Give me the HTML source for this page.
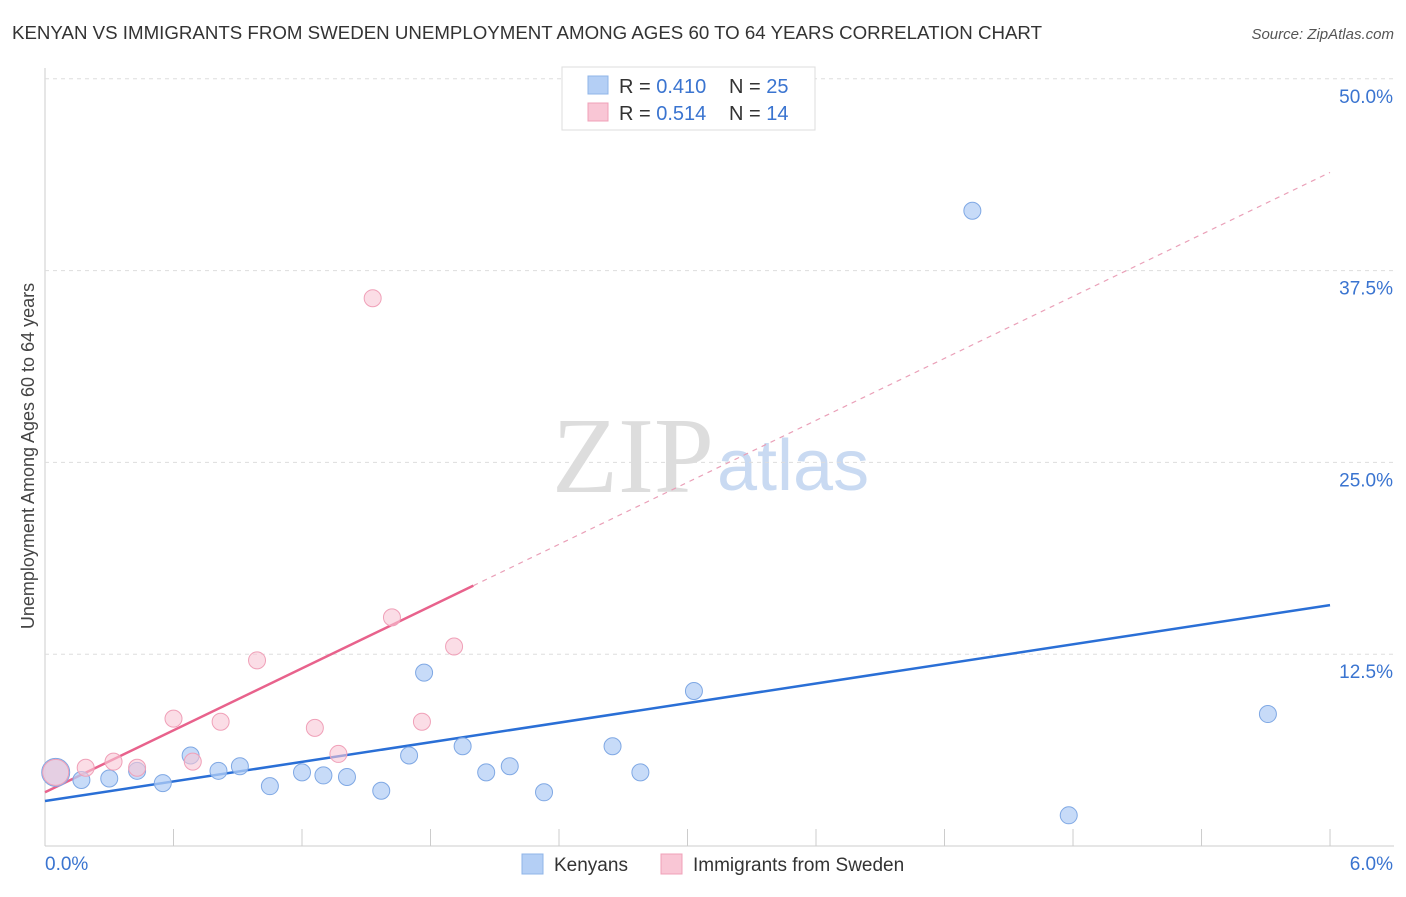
<!DOCTYPE html>
<html><head><meta charset="utf-8"><style>
body{margin:0;background:#fff;font-family:"Liberation Sans",sans-serif;}
</style></head><body>
<svg width="1406" height="892" xmlns="http://www.w3.org/2000/svg" id="chart">
<text x="12" y="39" font-size="18" fill="#333" textLength="1030" lengthAdjust="spacingAndGlyphs">KENYAN VS IMMIGRANTS FROM SWEDEN UNEMPLOYMENT AMONG AGES 60 TO 64 YEARS CORRELATION CHART</text>
<text x="1394" y="39" font-size="15" fill="#555" font-style="italic" text-anchor="end">Source: ZipAtlas.com</text>
<text x="34" y="456" font-size="18" fill="#444" text-anchor="middle" transform="rotate(-90 34 456)">Unemployment Among Ages 60 to 64 years</text>
<text x="714" y="492" font-size="108" fill="#ddd" text-anchor="end" font-family="Liberation Serif">ZIP</text>
<text x="717" y="490" font-size="72" fill="#c9daf2">atlas</text>
<g id="grid"></g><g id="lines"></g><g id="points"></g>
<g>
<rect x="562" y="67" width="253" height="63" fill="#fff" stroke="#ddd"/>
<rect x="588" y="76" width="20" height="18" fill="#b4cff5" stroke="#8fb4e8"/>
<text x="619" y="93" font-size="20" fill="#333">R = <tspan fill="#3a74d0">0.410</tspan></text>
<text x="729" y="93" font-size="20" fill="#333">N = <tspan fill="#3a74d0">25</tspan></text>
<rect x="588" y="103" width="20" height="18" fill="#f9c6d5" stroke="#f0a0b8"/>
<text x="619" y="120" font-size="20" fill="#333">R = <tspan fill="#3a74d0">0.514</tspan></text>
<text x="729" y="120" font-size="20" fill="#333">N = <tspan fill="#3a74d0">14</tspan></text>
</g>
<g>
<rect x="522" y="854" width="21" height="20" fill="#b4cff5" stroke="#8fb4e8"/>
<text x="554" y="871" font-size="19" fill="#333">Kenyans</text>
<rect x="661" y="854" width="21" height="20" fill="#f9c6d5" stroke="#f0a0b8"/>
<text x="693" y="871" font-size="19" fill="#333">Immigrants from Sweden</text>
</g>
</svg>
<script>
const blueX=[0.05,0.17,0.30,0.43,0.55,0.68,0.81,0.91,1.05,1.20,1.30,1.41,1.57,1.70,1.77,1.95,2.06,2.17,2.33,2.65,2.78,3.03,4.33,4.78,5.71];
const blueY=[4.8,4.3,4.4,4.9,4.1,5.9,4.9,5.2,3.9,4.8,4.6,4.5,3.6,5.9,11.3,6.5,4.8,5.2,3.5,6.5,4.8,10.1,41.4,2.0,8.6];
const pinkX=[0.05,0.19,0.32,0.43,0.60,0.69,0.82,0.99,1.26,1.37,1.53,1.62,1.76,1.91];
const pinkY=[4.8,5.1,5.5,5.1,8.3,5.5,8.1,12.1,7.7,6.0,35.7,14.9,8.1,13.0];
const blueLine=[2.93,15.7];
const pinkLine=[3.5,43.9];
const pinkSolidEnd=2.0;
const yTicks=[12.5,25,37.5,50];
const xTickLabels=["0.0%","6.0%"];
const NS="http://www.w3.org/2000/svg";
const sx=v=>45+v*214.17, sy=v=>846-v*15.344;
function mk(t,a,p){const e=document.createElementNS(NS,t);for(const k in a)e.setAttribute(k,a[k]);document.getElementById(p).appendChild(e);return e;}
let ax=mk('line',{x1:45,y1:68,x2:45,y2:846,stroke:'#ccc'},'grid');


let bx=mk('line',{x1:45,y1:846,x2:1394,y2:846,stroke:'#ccc'},'grid');


for(let i=1;i<=10;i++){const t=mk('line',{x1:sx(i*0.6),x2:sx(i*0.6),y1:829,y2:846,stroke:'#ccc'},'grid');

}
yTicks.forEach(v=>{const l=mk('line',{x1:45,x2:1394,y1:sy(v),y2:sy(v),stroke:'#ddd','stroke-dasharray':'4,4'},'grid');


const t=mk('text',{x:1393,y:sy(v)+24,'font-size':19,fill:'#3a74d0','text-anchor':'end'},'grid');t.textContent=v.toFixed(1)+'%';

});
[[45,'start'],[1393,'end']].forEach((p,i)=>{const t=mk('text',{x:p[0],y:870,'font-size':19,fill:'#3a74d0','text-anchor':p[1]},'grid');t.textContent=xTickLabels[i];

});
const py=x=>pinkLine[0]+(pinkLine[1]-pinkLine[0])*x/6;
let l1=mk('line',{x1:sx(0),y1:sy(blueLine[0]),x2:sx(6),y2:sy(blueLine[1]),stroke:'#2a6fd6','stroke-width':2.5},'lines');


let l2=mk('line',{x1:sx(0),y1:sy(py(0)),x2:sx(pinkSolidEnd),y2:sy(py(pinkSolidEnd)),stroke:'#e8628c','stroke-width':2.5},'lines');


let l3=mk('line',{x1:sx(pinkSolidEnd),y1:sy(py(pinkSolidEnd)),x2:sx(6),y2:sy(py(6)),stroke:'#eaa0b8','stroke-width':1.2,'stroke-dasharray':'5,5'},'lines');


blueX.forEach((x,i)=>{const c=mk('circle',{cx:sx(x),cy:sy(blueY[i]),r:i==0?14:8.5,fill:'rgba(180,207,245,0.75)',stroke:'#7fa8e4','stroke-width':1},'points');

});
pinkX.forEach((x,i)=>{const c=mk('circle',{cx:sx(x),cy:sy(pinkY[i]),r:i==0?13:8.5,fill:'rgba(249,198,213,0.6)',stroke:'#f0a0b8','stroke-width':1},'points');

});
</script>
</body></html>
